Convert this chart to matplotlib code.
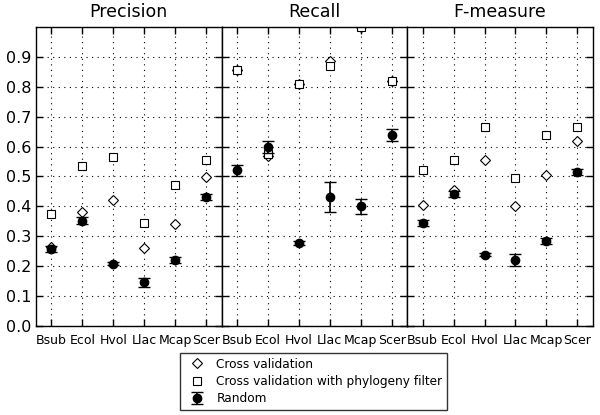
import matplotlib
matplotlib.use("Agg")
import matplotlib.pyplot as plt
import numpy as np

species = ["Bsub", "Ecol", "Hvol", "Llac", "Mcap", "Scer"]
panels = ["Precision", "Recall", "F-measure"]

cv = {
    "Precision": [0.265, 0.38, 0.42, 0.26, 0.34, 0.497],
    "Recall": [0.855, 0.57, 0.808, 0.885, 1.0, 0.82],
    "F-measure": [0.405, 0.455, 0.555, 0.402, 0.505, 0.618],
}
phylo = {
    "Precision": [0.375, 0.535, 0.565, 0.345, 0.472, 0.555],
    "Recall": [0.855, 0.575, 0.808, 0.868, 1.0, 0.82],
    "F-measure": [0.52, 0.555, 0.665, 0.495, 0.64, 0.665],
}
rand_mean = {
    "Precision": [0.258, 0.352, 0.208, 0.147, 0.221, 0.43],
    "Recall": [0.52, 0.598, 0.278, 0.432, 0.40, 0.64],
    "F-measure": [0.343, 0.443, 0.238, 0.22, 0.285, 0.515],
}
rand_err = {
    "Precision": [0.01, 0.012, 0.005, 0.015, 0.01, 0.01],
    "Recall": [0.02, 0.02, 0.007, 0.05, 0.025, 0.02],
    "F-measure": [0.01, 0.01, 0.005, 0.02, 0.01, 0.01],
}
yticks = [0.0, 0.1, 0.2, 0.3, 0.4, 0.5, 0.6, 0.7, 0.8, 0.9]

fig = plt.figure(figsize=(6, 4.15), dpi=100)
left, right, bottom, top = 0.06, 0.988, 0.2145, 0.935
w = (right - left) / 3
x = np.arange(1, len(species) + 1)
handles = None
for i, name in enumerate(panels):
    ax = fig.add_axes([left + i * w, bottom, w, top - bottom])
    h1, = ax.plot(x, cv[name], linestyle="none", marker="D", markersize=5.5,
                  markerfacecolor="white", markeredgecolor="black", markeredgewidth=0.8,
                  label="Cross validation")
    h2, = ax.plot(x, phylo[name], linestyle="none", marker="s", markersize=5.5,
                  markerfacecolor="white", markeredgecolor="black", markeredgewidth=0.8,
                  label="Cross validation with phylogeny filter")
    h3 = ax.errorbar(x, rand_mean[name], yerr=rand_err[name], fmt="o", color="black",
                     markersize=6, capsize=4, elinewidth=1.2, capthick=1,
                     label="Random")
    handles = [h1, h2, h3]
    ax.set_xlim(0.5, 6.5)
    ax.set_ylim(0, 1.0)
    ax.set_xticks(x)
    ax.set_xticklabels(species, fontsize=9)
    ax.set_yticks(yticks)
    if i == 0:
        ax.set_yticklabels([f"{t:.1f}" for t in yticks], fontsize=11.5)
    else:
        ax.set_yticklabels([])
    ax.tick_params(direction="in", top=True, right=True, length=5, width=1)
    ax.tick_params(axis="x", pad=6)
    ax.grid(True, linestyle=(0, (1, 4)), color="black", linewidth=0.8)
    ax.set_title(name, fontsize=12.5, pad=7)
    for s in ax.spines.values():
        s.set_linewidth(1)

fig.legend(handles, ["Cross validation", "Cross validation with phylogeny filter", "Random"],
           loc="lower left", bbox_to_anchor=(0.3, 0.012), borderaxespad=0, fontsize=8.7,
           frameon=True, fancybox=False, edgecolor="black", numpoints=1,
           handletextpad=0.6, borderpad=0.4, labelspacing=0.35)
fig.savefig("out.png", dpi=100)
